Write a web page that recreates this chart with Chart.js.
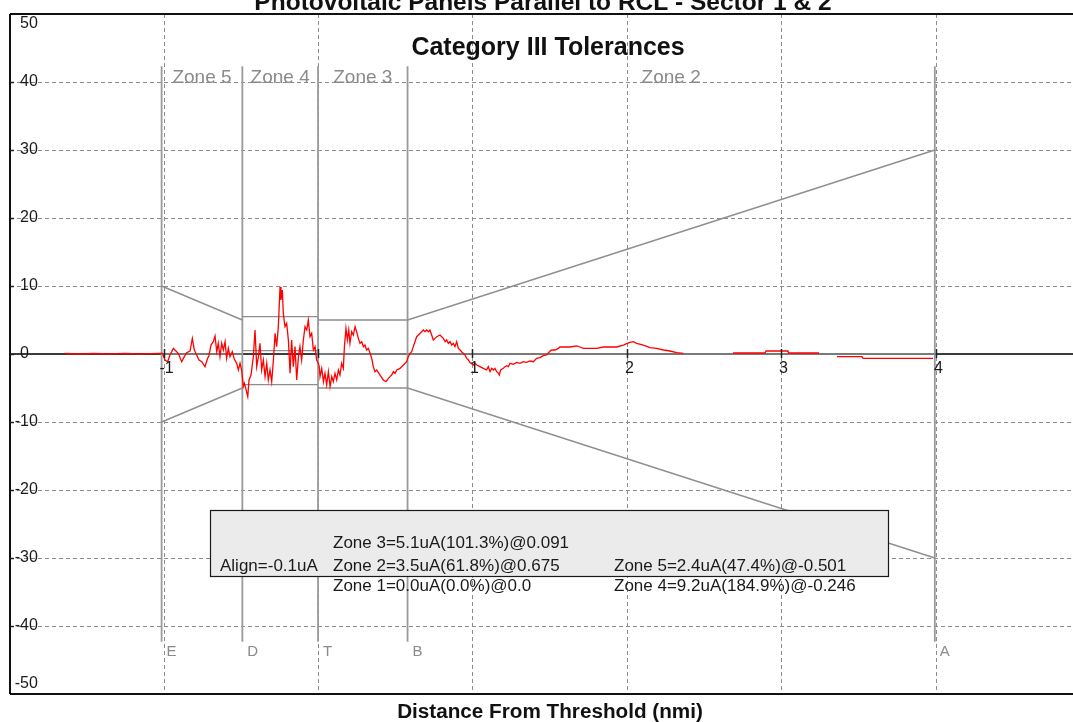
<!DOCTYPE html>
<html>
<head>
<meta charset="utf-8">
<title>Photovoltaic Panels Parallel to RCL - Sector 1 &amp; 2</title>
<script src="https://cdn.jsdelivr.net/npm/chart.js@4.4.1/dist/chart.umd.min.js"></script>
<style>
  html, body { margin: 0; padding: 0; background: #fff; }
  #wrap { width: 1073px; height: 722px; }
</style>
</head>
<body>
<div id="wrap"><canvas id="course" width="1073" height="722"></canvas></div>
<script>
// axis ticks
const xTicks = [-1, 0, 1, 2, 3, 4];
const yTicks = [50, 40, 30, 20, 10, 0, -10, -20, -30, -40, -50];

// zone boundaries (nmi) : E D T B A
const markerNames = ["E", "D", "T", "B", "A"];
const markerDist = [-1.013, -0.49, 0.0, 0.58, 3.995];
const zoneNames = ["Zone 5", "Zone 4", "Zone 3", "Zone 2"];
const zoneLineTop = 42.3;
const zoneLineBottom = -42.3;

// tolerance limits (uA)
const fanInUpper = [10, 5];      // E -> D
const fanInLower = [-10, -5];
const zone4Limits = [5.5, 0.5, -4.5]; // D -> T
const zone3Limits = [5, -5];     // T -> B
const fanOutUpper = [5, 30];     // B -> A
const fanOutLower = [-5, -30];
const centreLine = [0, 0];

// recorded course deviation
const distNmi = [
  -1.64, -1.55, -1.45, -1.35, -1.25, -1.15, -1.03,
  -1.008, -0.991, -0.974, -0.959, -0.937, -0.922, -0.905, -0.883, -0.866, -0.851,
  -0.829, -0.814, -0.801, -0.786, -0.771, -0.753, -0.732, -0.715, -0.707, -0.693,
  -0.678, -0.667, -0.656, -0.646, -0.635, -0.624, -0.613, -0.602, -0.592, -0.581,
  -0.570, -0.555, -0.542, -0.527, -0.516, -0.505, -0.494, -0.484, -0.477, -0.468,
  -0.455, -0.447, -0.434, -0.419, -0.408, -0.397, -0.386, -0.376, -0.365, -0.354,
  -0.343, -0.332, -0.322, -0.311, -0.300, -0.289, -0.278, -0.268, -0.257, -0.246,
  -0.240, -0.231, -0.225, -0.214, -0.203, -0.192, -0.181, -0.171, -0.160, -0.149,
  -0.138, -0.127, -0.117, -0.106, -0.095, -0.084, -0.073, -0.063, -0.052, -0.041,
  -0.030, -0.019, -0.009, 0.002,
  0.008, 0.013, 0.024, 0.035, 0.045, 0.056, 0.067, 0.078, 0.089, 0.099,
  0.110, 0.121, 0.132, 0.142, 0.153, 0.164, 0.171, 0.181, 0.190, 0.199,
  0.207, 0.218, 0.229, 0.240, 0.250, 0.261, 0.272, 0.283, 0.294, 0.304,
  0.315, 0.326, 0.337, 0.348, 0.358, 0.369, 0.380, 0.402, 0.423, 0.440,
  0.456, 0.466, 0.477, 0.488, 0.499, 0.510, 0.531, 0.553, 0.574, 0.585,
  0.596, 0.607, 0.617, 0.628, 0.639, 0.650, 0.661, 0.671, 0.682, 0.693,
  0.704, 0.715, 0.725, 0.736, 0.747, 0.758, 0.769, 0.790, 0.801, 0.812,
  0.823, 0.833, 0.844, 0.855, 0.866, 0.876, 0.887, 0.898, 0.909, 0.920,
  0.930, 0.941, 0.952, 0.963, 0.974, 0.984, 0.995, 1.006, 1.017,
  1.028, 1.049, 1.071, 1.092, 1.103, 1.114, 1.125, 1.136, 1.146, 1.157,
  1.168, 1.174, 1.183, 1.200, 1.211, 1.222, 1.233, 1.244, 1.265, 1.287,
  1.308, 1.330, 1.351, 1.373, 1.395, 1.416, 1.438, 1.459, 1.481, 1.503,
  1.513, 1.535, 1.557, 1.567, 1.589, 1.632, 1.675, 1.697, 1.718, 1.762,
  1.805, 1.848, 1.891, 1.934, 1.978, 1.999, 2.021, 2.042, 2.064, 2.107,
  2.150, 2.193, 2.237, 2.280, 2.323, 2.366,
  2.50,
  2.688, 2.895, 2.902, 3.044, 3.047, 3.245,
  3.30,
  3.361, 3.523, 3.530, 3.983
];
const deviationUa = [
  0.1, 0.0, 0.1, 0.0, 0.1, 0.0, 0.1,
  0.1, -0.88, -1.13, -0.15, 0.83, 0.49, 0.1, -1.13, -0.39, 0.2,
  0.44, 2.3, 0.59, -0.15, -0.88, -1.13, -1.86, -0.64, -0.29, 1.32,
  1.81, 2.65, 0.34, 1.57, -0.39, 1.57, 0.59, 1.81, -0.64, 0.83,
  -0.39, 0.34, -0.78, -1.37, -2.35, -1.37, -2.45, -4.8, -4.31, -5.05,
  -6.27, -3.82, -3.09, -0.39, 3.53, -1.86, -0.39, 1.57, -2.35, -0.88,
  -3.33, -1.37, -3.82, -2.35, -4.07, -0.88, 3.04, 1.08, 4.02, 9.9,
  7.94, 9.41, 5.98, 4.02, 4.51, 2.06, -2.84, 2.06, -1.86, 1.08,
  -3.82, -0.39, 1.08, -0.88, 2.06, 4.02, 3.53, 5.0, 2.55, 3.04,
  0.59, 1.08, -0.88, -1.37,
  -1.86, -3.33, -2.11, -4.07, -2.84, -4.56, -2.6, -4.8, -3.33, -4.07,
  -2.84, -3.82, -2.35, -3.09, -1.37, -2.11, 1.08, 3.77, 2.06, 3.53,
  1.57, 3.28, 2.79, 4.02, 3.28, 2.3, 1.57, 1.81, 1.08, 1.32,
  0.59, 0.83, 0.1, -0.64, -1.86, -2.6, -2.35, -3.09, -3.82, -4.07,
  -3.58, -3.33, -3.09, -2.6, -2.84, -2.35, -2.11, -1.62, -1.13, -0.39,
  0.1, 0.34, 1.08, 1.81, 2.55, 2.79, 3.04, 3.28, 3.53, 3.28,
  3.53, 3.28, 3.53, 2.79, 2.06, 2.3, 2.55, 2.79, 2.55, 2.3,
  1.81, 2.06, 1.57, 1.81, 1.32, 1.57, 1.08, 1.81, 0.83, 0.59,
  0.34, 0.1, -0.15, -0.64, -0.88, -1.27, -1.37, -1.62, -1.37,
  -1.62, -1.86, -2.11, -2.35, -1.86, -2.6, -2.11, -2.35, -2.11, -2.6,
  -2.84, -3.09, -2.35, -2.11, -1.86, -1.72, -1.86, -1.37, -1.52, -1.23,
  -1.37, -1.13, -1.23, -1.03, -1.13, -0.64, -0.54, -0.25, -0.15, 0.44,
  0.59, 0.59, 0.83, 1.03, 1.03, 1.03, 1.18, 1.03, 0.83, 0.83,
  0.83, 1.03, 1.03, 1.03, 1.32, 1.52, 1.72, 1.81, 1.57, 1.32,
  0.93, 0.83, 0.59, 0.44, 0.2, 0.1,
  null,
  0.15, 0.15, 0.44, 0.44, 0.15, 0.15,
  null,
  -0.39, -0.39, -0.64, -0.64
];

// results panel
const alignText = "Align=-0.1uA";
const statsLeft = ["Zone 3=5.1uA(101.3%)@0.091", "Zone 2=3.5uA(61.8%)@0.675", "Zone 1=0.0uA(0.0%)@0.0"];
const statsRight = ["Zone 5=2.4uA(47.4%)@-0.501", "Zone 4=9.2uA(184.9%)@-0.246"];

const titleText = "Photovoltaic Panels Parallel to RCL - Sector 1 & 2";
const subtitleText = "Category III Tolerances";
const xTitleText = "Distance From Threshold (nmi)";

// build segment lists (null y breaks the line)
function seg(x1, y1, x2, y2) {
  return [{ x: x1, y: y1 }, { x: x2, y: y2 }, { x: x2, y: null }];
}
const [mE, mD, mT, mB, mA] = markerDist;
const toleranceData = [].concat(
  seg(mE, fanInUpper[0], mD, fanInUpper[1]),
  seg(mE, fanInLower[0], mD, fanInLower[1]),
  seg(mD, zone4Limits[0], mT, zone4Limits[0]),
  seg(mD, zone4Limits[1], mT, zone4Limits[1]),
  seg(mD, zone4Limits[2], mT, zone4Limits[2]),
  seg(mT, zone3Limits[0], mB, zone3Limits[0]),
  seg(mT, zone3Limits[1], mB, zone3Limits[1]),
  seg(mB, fanOutUpper[0], mA, fanOutUpper[1]),
  seg(mB, fanOutLower[0], mA, fanOutLower[1]),
  seg(mE, centreLine[0], mD, centreLine[1]),
  seg(mT, centreLine[0], mA, centreLine[1])
);
const zoneLineData = [];
markerDist.forEach((m) => zoneLineData.push(...seg(m, zoneLineTop, m, zoneLineBottom)));
const courseData = distNmi.map((d, i) => ({ x: d, y: deviationUa[i] }));

const FONT = "'Liberation Sans', Arial, sans-serif";

const overlay = {
  id: "overlay",
  beforeDatasetsDraw(chart) {
    const { ctx, chartArea: a, scales: { x, y } } = chart;
    const line = (x1, y1, x2, y2) => {
      ctx.beginPath(); ctx.moveTo(x1, y1); ctx.lineTo(x2, y2); ctx.stroke();
    };
    ctx.save();
    ctx.strokeStyle = "#8c8c8c";
    ctx.lineWidth = 1;
    ctx.setLineDash([4, 3]);
    yTicks.forEach((v) => {
      if (v === 0 || Math.abs(v) === 50) return;
      const py = Math.round(y.getPixelForValue(v)) + 0.5;
      line(a.left, py, a.right, py);
    });
    xTicks.forEach((v) => {
      const px = Math.round(x.getPixelForValue(v)) + 0.5;
      line(px, a.top, px, a.bottom);
    });
    ctx.setLineDash([]);
    // zero axis
    const y0 = y.getPixelForValue(0);
    ctx.strokeStyle = "#3c3c3c";
    ctx.lineWidth = 2;
    line(a.left, y0, a.right, y0);
    ctx.restore();
  },
  afterDatasetsDraw(chart) {
    const { ctx, chartArea: a, scales: { x, y } } = chart;
    const line = (x1, y1, x2, y2) => {
      ctx.beginPath(); ctx.moveTo(x1, y1); ctx.lineTo(x2, y2); ctx.stroke();
    };
    ctx.save();
    const y0 = y.getPixelForValue(0);

    // x ticks on zero axis + labels
    ctx.strokeStyle = "#222";
    ctx.lineWidth = 1.5;
    ctx.font = "16px " + FONT;
    ctx.fillStyle = "#1a1a1a";
    ctx.textAlign = "center";
    ctx.textBaseline = "middle";
    xTicks.forEach((v) => {
      const px = Math.round(x.getPixelForValue(v)) + 0.5;
      line(px, y0 - 5, px, y0 + 4);
      if (v !== 0) ctx.fillText(String(v), px + 2, y0 + 15);
    });

    // y labels inside, left
    ctx.textAlign = "left";
    const minusW = ctx.measureText("-").width;
    yTicks.forEach((v) => {
      let py = y.getPixelForValue(v);
      py = Math.min(Math.max(py, a.top + 10), a.bottom - 10);
      const lx = a.left + 10 - (v < 0 ? minusW : 0);
      ctx.fillText(String(v), lx, py);
      if (Math.abs(v) !== 50) line(a.left, Math.round(py) + 0.5, a.left + 4, Math.round(py) + 0.5);
    });

    // zone names
    ctx.fillStyle = "#8a8a8a";
    ctx.font = "19px " + FONT;
    ctx.textAlign = "center";
    const zy = y.getPixelForValue(40) - 4;
    zoneNames.forEach((n, i) => {
      const cx = (x.getPixelForValue(markerDist[i]) + x.getPixelForValue(markerDist[i + 1])) / 2;
      ctx.fillText(n, cx, zy);
    });

    // marker letters
    ctx.font = "15px " + FONT;
    ctx.textAlign = "left";
    const ly = y.getPixelForValue(-40) + 26;
    markerNames.forEach((n, i) => {
      ctx.fillText(n, x.getPixelForValue(markerDist[i]) + 5, ly);
    });

    // results panel
    const bx = a.left + 200, by = Math.round(y.getPixelForValue(-23)), bw = 678, bh = 66;
    ctx.fillStyle = "#ebebeb";
    ctx.fillRect(bx, by, bw, bh);
    ctx.strokeStyle = "#1a1a1a";
    ctx.lineWidth = 1.2;
    ctx.strokeRect(bx + 0.5, by + 0.5, bw, bh);
    ctx.fillStyle = "#1a1a1a";
    ctx.font = "17px " + FONT;
    ctx.textBaseline = "middle";
    ctx.fillText(alignText, bx + 10, by + 56);
    const rowY = [by + 33, by + 56, by + 76];
    statsLeft.forEach((t, i) => ctx.fillText(t, bx + 123, rowY[i]));
    statsRight.forEach((t, i) => ctx.fillText(t, bx + 404, rowY[i + 1]));

    // frame
    ctx.strokeStyle = "#111";
    ctx.lineWidth = 2;
    line(a.left, a.top, a.right, a.top);
    line(a.left, a.top, a.left, a.bottom);
    line(a.left, a.bottom, a.right, a.bottom);

    // titles
    ctx.fillStyle = "#111";
    ctx.textAlign = "center";
    ctx.font = "bold 24.5px " + FONT;
    ctx.textBaseline = "alphabetic";
    ctx.fillText(titleText, 543, 10);
    ctx.font = "bold 25px " + FONT;
    ctx.textBaseline = "middle";
    ctx.fillText(subtitleText, 548, 48);
    ctx.font = "bold 20.7px " + FONT;
    ctx.fillText(xTitleText, 550, 712);
    ctx.restore();
  }
};

new Chart(document.getElementById("course"), {
  type: "line",
  data: {
    datasets: [
      {
        label: "Deviation",
        data: courseData,
        borderColor: "#ff0000",
        borderWidth: 1.3,
        pointRadius: 0,
        tension: 0,
        spanGaps: false,
        order: 0
      },
      {
        label: "Tolerance",
        data: toleranceData,
        borderColor: "#8f8f8f",
        borderWidth: 1.4,
        pointRadius: 0,
        tension: 0,
        spanGaps: false,
        order: 1
      },
      {
        label: "Zones",
        data: zoneLineData,
        borderColor: "#9a9a9a",
        borderWidth: 1.8,
        pointRadius: 0,
        tension: 0,
        spanGaps: false,
        order: 2
      }
    ]
  },
  options: {
    responsive: false,
    animation: false,
    devicePixelRatio: 1,
    layout: { padding: { left: 10, right: 0, top: 14, bottom: 28 } },
    scales: {
      x: { type: "linear", min: -1.995, max: 4.89, display: false },
      y: { type: "linear", min: -50, max: 50, display: false }
    },
    plugins: {
      legend: { display: false },
      tooltip: { enabled: false }
    }
  },
  plugins: [overlay]
});
</script>
</body>
</html>
